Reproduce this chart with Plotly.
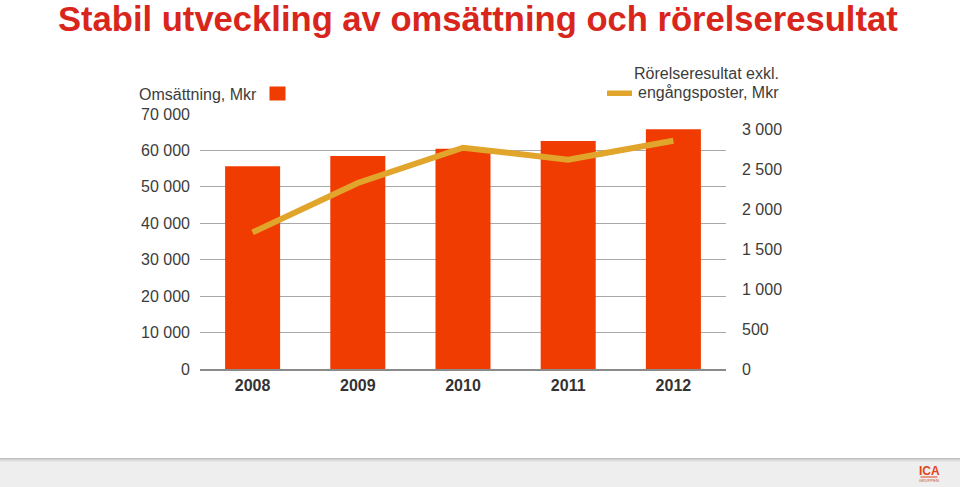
import plotly.graph_objects as go

# ---- data ----
years = ["2008", "2009", "2010", "2011", "2012"]
omsattning = [55660, 58490, 60490, 62600, 65810]          # Mkr, left axis (bars)
rorelseresultat = [1708, 2325, 2766, 2616, 2854]          # Mkr, right axis (line)

left_tickvals = [0, 10000, 20000, 30000, 40000, 50000, 60000, 70000]
left_ticktext = ["0", "10 000", "20 000", "30 000", "40 000", "50 000", "60 000", "70 000"]
right_tickvals = [0, 500, 1000, 1500, 2000, 2500, 3000]
right_ticktext = ["0", "500", "1 000", "1 500", "2 000", "2 500", "3 000"]

title_text = "Stabil utveckling av omsättning och rörelseresultat"
legend_bar = "Omsättning, Mkr"
legend_line_1 = "Rörelseresultat exkl."
legend_line_2 = "engångsposter, Mkr"

# ---- styles ----
W, H = 960, 487
ML, MR, MT, MB = 200, 234, 114, 118
BAR_COLOR = "#F03C00"
LINE_COLOR = "#E0A52A"
TEXT_COLOR = "#3C3C3C"
TITLE_COLOR = "#D9261C"
FONT = "Arial, Liberation Sans, sans-serif"

PW = W - ML - MR
PH = H - MT - MB


def px(x):
    return (x - ML) / PW


def py(y):
    return (H - MB - y) / PH


fig = go.Figure()
fig.add_trace(go.Bar(x=years, y=omsattning, marker=dict(color=BAR_COLOR, line=dict(width=0)),
                     name=legend_bar, yaxis="y"))
fig.add_trace(go.Scatter(x=years, y=rorelseresultat, mode="lines",
                         line=dict(color=LINE_COLOR, width=6), name=legend_line_1, yaxis="y2"))

fig.update_layout(
    width=W, height=H,
    margin=dict(l=ML, r=MR, t=MT, b=MB, pad=0),
    paper_bgcolor="white", plot_bgcolor="white",
    showlegend=False,
    bargap=0.477,
    font=dict(family=FONT, color=TEXT_COLOR, size=16),
    xaxis=dict(type="category", showline=True, linecolor="#8A8A8A", linewidth=1.5,
               showgrid=False, ticks="", tickfont=dict(size=16, color="#333333", weight="bold"),
               ticklabelstandoff=1),
    yaxis=dict(range=[0, 70000], tickvals=left_tickvals, ticktext=left_ticktext,
               showgrid=True, gridcolor="#A8A8A8", gridwidth=1, zeroline=False,
               ticks="", tickfont=dict(size=16, color=TEXT_COLOR), ticklabelstandoff=9),
    yaxis2=dict(range=[0, (H - MB - MT) / 80 * 1000], overlaying="y", side="right",
                tickvals=right_tickvals, ticktext=right_ticktext, showgrid=False,
                zeroline=False, ticks="", tickfont=dict(size=16, color=TEXT_COLOR),
                ticklabelstandoff=15),
)

shapes = []
annotations = []

# title
annotations.append(dict(text="<b>" + title_text + "</b>", xref="paper", yref="paper",
                        x=px(57), y=py(19), xanchor="left", yanchor="middle", showarrow=False,
                        borderpad=0, font=dict(size=34.6, color=TITLE_COLOR, family=FONT)))

# left legend
annotations.append(dict(text=legend_bar, xref="paper", yref="paper", x=px(259), y=py(94),
                        xanchor="right", yanchor="middle", showarrow=False,
                        font=dict(size=16, color=TEXT_COLOR)))
shapes.append(dict(type="rect", xref="paper", yref="paper", x0=px(269.5), x1=px(285.5),
                   y0=py(100.5), y1=py(86.5), fillcolor=BAR_COLOR, line=dict(width=0)))

# right legend
annotations.append(dict(text=legend_line_1, xref="paper", yref="paper", x=px(780.5), y=py(74),
                        xanchor="right", yanchor="middle", showarrow=False,
                        font=dict(size=16, color=TEXT_COLOR)))
annotations.append(dict(text=legend_line_2, xref="paper", yref="paper", x=px(780.5), y=py(92.5),
                        xanchor="right", yanchor="middle", showarrow=False,
                        font=dict(size=16, color=TEXT_COLOR)))
shapes.append(dict(type="rect", xref="paper", yref="paper", x0=px(607), x1=px(632),
                   y0=py(96), y1=py(90.5), fillcolor=LINE_COLOR, line=dict(width=0)))

# footer band
shapes.append(dict(type="rect", xref="paper", yref="paper", x0=px(0), x1=px(W),
                   y0=py(H), y1=py(458), fillcolor="#EEEEEE", line=dict(width=0)))
for yy, col in [(458.5, "#C2C2C2"), (459.5, "#D0D0D0"), (460.5, "#DDDDDD"), (461.5, "#E6E6E6")]:
    shapes.append(dict(type="line", xref="paper", yref="paper", x0=px(0), x1=px(W),
                       y0=py(yy), y1=py(yy), line=dict(color=col, width=1)))

# logo
annotations.append(dict(text="<b>ICA</b>", xref="paper", yref="paper", x=px(929), y=py(471),
                        xanchor="center", yanchor="middle", showarrow=False,
                        font=dict(size=12, color="#E2451C", family=FONT)))
shapes.append(dict(type="line", xref="paper", yref="paper", x0=px(920.5), x1=px(937.5),
                   y0=py(477), y1=py(477), line=dict(color="#E2451C", width=1)))
annotations.append(dict(text="GRUPPEN", xref="paper", yref="paper", x=px(929), y=py(480.5),
                        xanchor="center", yanchor="middle", showarrow=False,
                        font=dict(size=4, color="#C05030", family=FONT)))

fig.update_layout(shapes=shapes, annotations=annotations)
fig.write_html("out.html", config={"displayModeBar": False},
               post_script="document.body.style.margin='0';document.body.style.overflow='hidden';")
